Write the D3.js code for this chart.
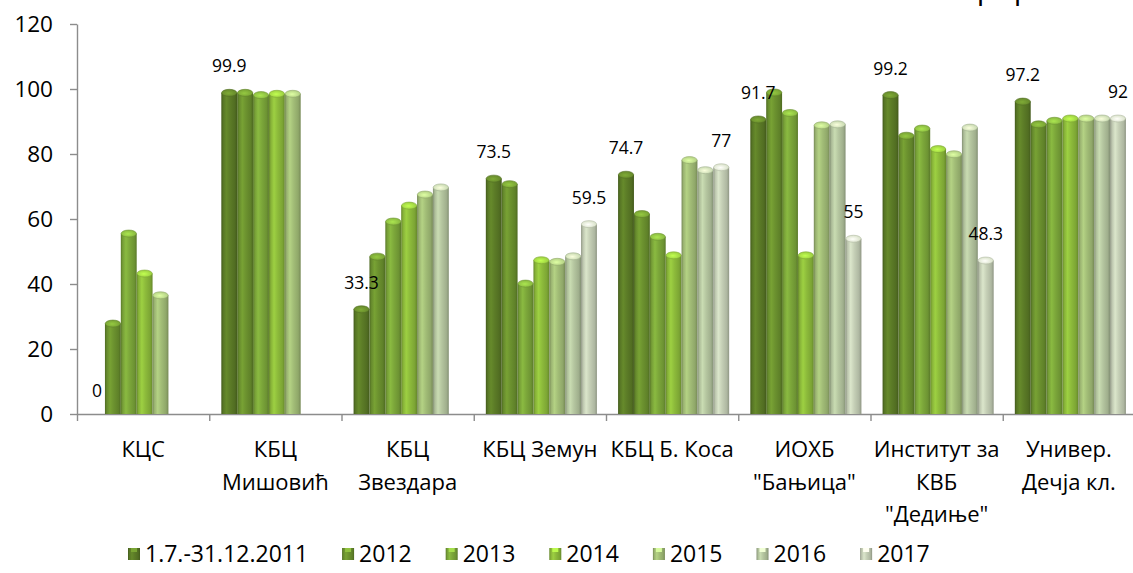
<!DOCTYPE html>
<html>
<head>
<meta charset="utf-8">
<script src="https://cdn.jsdelivr.net/npm/d3@7"></script>
<style>
    html, body { margin: 0; padding: 0; background: #fff; }
    svg { display: block; }
    text { font-family: "Open Sans", "Noto Sans", sans-serif; font-weight: 400; fill: #000; }
</style>
</head>
<body>
<div id="chart"></div>
<script>
// Data
const categories = ["КЦС", "КБЦ Мишовић", "КБЦ Звездара", "КБЦ Земун", "КБЦ Б. Коса", "ИОХБ Бањица", "Институт КВБ Дедиње", "Универ. Дечја кл."];
const categoryLines = [
    ["КЦС"],
    ["КБЦ", "Мишовић"],
    ["КБЦ", "Звездара"],
    ["КБЦ Земун"],
    ["КБЦ Б. Коса"],
    ["ИОХБ", "\"Бањица\""],
    ["Институт за", "КВБ", "\"Дедиње\""],
    ["Универ.", "Дечја кл."]
];
const seriesNames = ["1.7.-31.12.2011", "2012", "2013", "2014", "2015", "2016", "2017"];
const values2011 = [0, 99.9, 33.3, 73.5, 74.7, 91.7, 99.2, 97.2];
const values2012 = [28.9, 99.9, 49.5, 71.8, 62.6, 100, 86.7, 90.2];
const values2013 = [56.6, 99.2, 60.3, 41.2, 55.6, 93.7, 88.9, 91.3];
const values2014 = [44.3, 99.6, 65.2, 48.4, 49.9, 49.9, 82.6, 92];
const values2015 = [37.6, 99.6, 68.6, 47.9, 79.2, 89.9, 81.0, 92];
const values2016 = [null, null, 70.8, 49.6, 76.1, 90.2, 89.2, 92];
const values2017 = [null, null, null, 59.5, 77, 55, 48.3, 92];
const yTicks = [0, 20, 40, 60, 80, 100, 120];
const labelledSeries = [0, 6]; // only first and last series carry data labels

const seriesValues = [values2011, values2012, values2013, values2014, values2015, values2016, values2017];

// Styling
const WIDTH = 1133, HEIGHT = 573;
const MARGIN = { top: 24, left: 77, bottom: 159 };
const COLORS = ["#5c7c27", "#6c922f", "#7ca73a", "#8dbb3b", "#a2bd77", "#b5c6a0", "#c5cfb6"];
const FONT = 22;

const svg = d3.select("#chart").append("svg")
    .attr("width", WIDTH)
    .attr("height", HEIGHT);

const defs = svg.append("defs");
COLORS.forEach((c, i) => {
    const g = defs.append("linearGradient")
        .attr("id", "grad" + i)
        .attr("x1", "0%").attr("x2", "100%")
        .attr("y1", "0%").attr("y2", "0%");
    const base = d3.color(c);
    [
        [0, base.darker(0.9)],
        [0.12, base.darker(0.15)],
        [0.32, base.brighter(0.3)],
        [0.55, base],
        [0.85, base.darker(0.35)],
        [1, base.darker(0.9)]
    ].forEach(([o, col]) => {
        g.append("stop").attr("offset", o).attr("stop-color", col.formatHex());
    });
    const cap = defs.append("radialGradient")
        .attr("id", "cap" + i)
        .attr("cx", "45%").attr("cy", "55%").attr("r", "60%");
    cap.append("stop").attr("offset", 0).attr("stop-color", base.brighter(0.9).formatHex());
    cap.append("stop").attr("offset", 1).attr("stop-color", base.brighter(0.2).formatHex());
});

// Scales
const y = d3.scaleLinear()
    .domain([0, 120])
    .range([HEIGHT - MARGIN.bottom, MARGIN.top]);

const x0 = d3.scaleBand()
    .domain(categories)
    .range([MARGIN.left, 1135])
    .paddingInner(0.16)
    .paddingOuter(0.08);

const x1 = d3.scaleBand()
    .domain(d3.range(seriesNames.length))
    .range([0, x0.bandwidth()]);

const xTick = d3.scaleLinear()
    .domain([0, categories.length])
    .range([MARGIN.left, 1135]);

// Y axis
const yAxis = svg.append("g")
    .attr("transform", `translate(${MARGIN.left},0)`)
    .call(d3.axisLeft(y).tickValues(yTicks).tickSize(7).tickPadding(17).tickSizeOuter(0));
yAxis.select(".domain").attr("stroke", "#8c8c8c").attr("stroke-width", 1.4);
yAxis.selectAll(".tick line").attr("stroke", "#8c8c8c").attr("stroke-width", 1.4);
yAxis.selectAll(".tick text")
    .attr("font-size", FONT + 0.5)
    .attr("font-family", "'Open Sans', sans-serif")
    .attr("fill", "#000");

// X axis (category boundaries)
const xAxis = svg.append("g")
    .attr("transform", `translate(0,${y(0)})`)
    .call(d3.axisBottom(xTick).tickValues(d3.range(categories.length + 1)).tickFormat("").tickSize(7).tickSizeOuter(0));
xAxis.select(".domain").attr("stroke", "#8c8c8c").attr("stroke-width", 1.4);
xAxis.selectAll(".tick line").attr("stroke", "#8c8c8c").attr("stroke-width", 1.4);

// Category labels
categories.forEach((cat, i) => {
    const cx = (xTick(i) + xTick(i + 1)) / 2;
    const t = svg.append("text")
        .attr("text-anchor", "middle")
        .attr("font-size", FONT)
        .attr("x", cx)
        .attr("y", 457);
    categoryLines[i].forEach((line, j) => {
        t.append("tspan").attr("x", cx).attr("y", 457 + j * 32.5).text(line);
    });
});

// Bars
const barsG = svg.append("g").attr("transform", "translate(1.5,0)");
const CAP = 3.5;
seriesValues.forEach((vals, s) => {
    const w = x1.bandwidth();
    vals.forEach((v, c) => {
        if (v === null || v <= 0) return;
        const bx = x0(categories[c]) + x1(s);
        const top = y(v);
        barsG.append("rect")
            .attr("x", bx)
            .attr("y", top + CAP)
            .attr("width", w)
            .attr("height", y(0) - top - CAP)
            .attr("fill", `url(#grad${s})`);
        barsG.append("ellipse")
            .attr("cx", bx + w / 2)
            .attr("cy", top + CAP)
            .attr("rx", w / 2 - 0.3)
            .attr("ry", CAP)
            .attr("fill", `url(#cap${s})`)
            .attr("stroke", d3.color(COLORS[s]).darker(0.3).formatHex())
            .attr("stroke-width", 0.6);
    });
});

// Data labels
labelledSeries.forEach(s => {
    seriesValues[s].forEach((v, c) => {
        if (v === null) return;
        barsG.append("text")
            .attr("text-anchor", "middle")
            .attr("font-size", 17.5)
            .attr("x", x0(categories[c]) + x1(s) + x1.bandwidth() / 2)
            .attr("y", y(v) - 17)
            .text(String(v));
    });
});

// Legend
const legend = svg.append("g");
let lx = 128;
seriesNames.forEach((name, i) => {
    legend.append("rect")
        .attr("x", lx)
        .attr("y", 548)
        .attr("width", 12)
        .attr("height", 12)
        .attr("fill", `url(#grad${i})`);
    legend.append("rect")
        .attr("x", lx + 3)
        .attr("y", 548)
        .attr("width", 6)
        .attr("height", 4)
        .attr("fill", d3.color(COLORS[i]).brighter(0.8).formatHex());
    const t = legend.append("text")
        .attr("x", lx + 17)
        .attr("y", 562)
        .attr("font-size", FONT + 1)
        .text(name);
    lx += 17 + t.node().getComputedTextLength() + 34;
});

// Cut-off text fragment at the top edge
["р", "р"].forEach((ch, i) => {
    svg.append("text")
        .attr("x", [986, 1023][i])
        .attr("y", -1)
        .attr("text-anchor", "middle")
        .attr("font-size", 30)
        .attr("font-family", "'Liberation Serif', serif")
        .text(ch);
});
</script>
</body>
</html>
